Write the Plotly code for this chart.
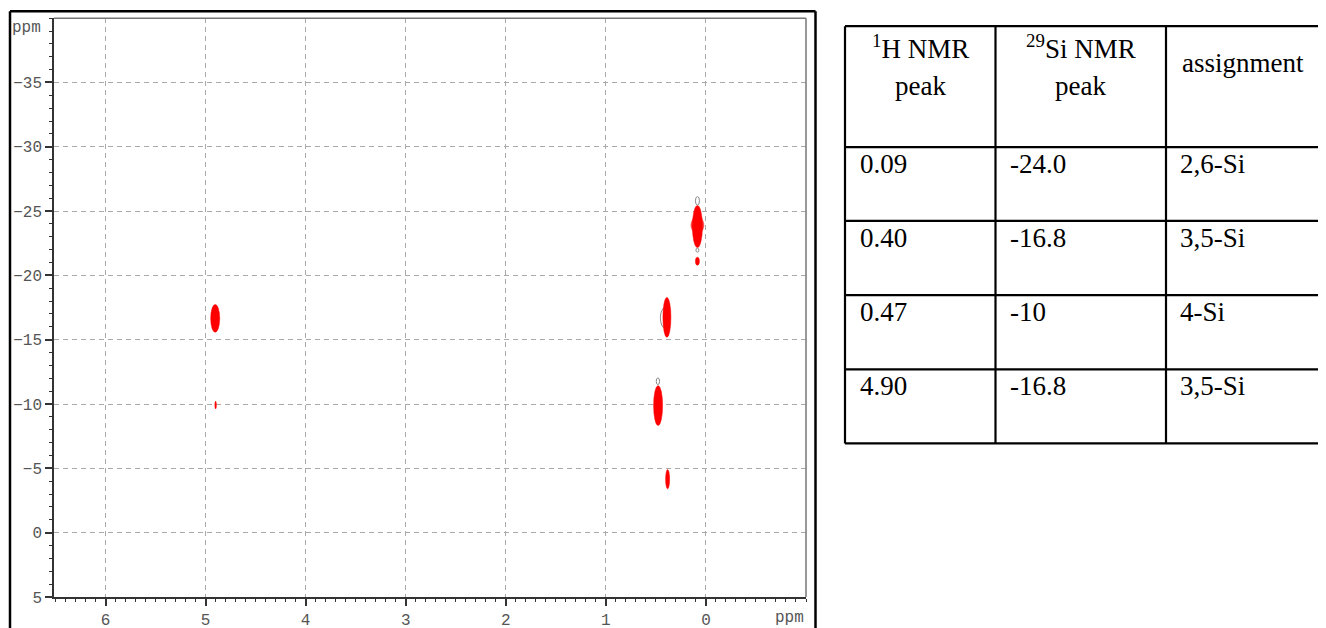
import plotly.graph_objects as go

# ---------------- data ----------------
# cross peaks (1H shift, 29Si shift, 1H width, 29Si width) in ppm
red_h = [0.085, 0.085, 0.085, 0.39, 0.478, 0.383, 4.904, 4.90]
red_si = [-23.9, -23.8, -21.1, -16.74, -9.88, -4.15, -16.66, -9.92]
red_dh = [0.13, 0.10, 0.04, 0.08, 0.09, 0.04, 0.09, 0.015]
red_dsi = [1.3, 3.27, 0.62, 3.1, 3.1, 1.5, 2.16, 0.6]
red_alpha = [0.75, 1, 1, 1, 1, 1, 1, 1]

gray_h = [0.085, 0.085, 0.41, 0.48]
gray_si = [-25.8, -21.96, -16.7, -11.77]
gray_dh = [0.04, 0.03, 0.09, 0.033]
gray_dsi = [0.65, 0.3, 1.6, 0.52]

x_ticks = [6, 5, 4, 3, 2, 1, 0]
y_ticks = [-35, -30, -25, -20, -15, -10, -5, 0, 5]

table_header = [["<sup>1</sup>H NMR", "peak"], ["<sup>29</sup>Si NMR", "peak"], ["assignment"]]
col_h = ["0.09", "0.40", "0.47", "4.90"]
col_si = ["-24.0", "-16.8", "-10", "-16.8"]
col_assign = ["2,6-Si", "3,5-Si", "4-Si", "3,5-Si"]

# ---------------- layout helpers ----------------
OFF = 8          # page body margin
K = 628 / 640    # vertical photo scale
FW, FH = 1326 - OFF, 632
def px(x):
    return (x - OFF) / FW
def py(y):
    return 1 - (y / K - OFF) / FH

PL, PR, PT, PB = 54, 806, 18, 596

fig = go.Figure()

shapes = []
for h, s, dh, ds in zip(gray_h, gray_si, gray_dh, gray_dsi):
    shapes.append(dict(type="circle", xref="x", yref="y",
                       x0=h - dh / 2, x1=h + dh / 2, y0=s - ds / 2, y1=s + ds / 2,
                       line=dict(color="#8a8a8a", width=1), fillcolor="rgba(0,0,0,0)"))
for h, s, dh, ds, a in zip(red_h, red_si, red_dh, red_dsi, red_alpha):
    shapes.append(dict(type="circle", xref="x", yref="y",
                       x0=h - dh / 2, x1=h + dh / 2, y0=s - ds / 2, y1=s + ds / 2,
                       line=dict(color="#ff0000", width=0.5), fillcolor="#ff0000", opacity=a))

fig.add_trace(go.Scatter(x=red_h, y=red_si, mode="markers",
                         marker=dict(size=6, color="red", opacity=0),
                         hoverinfo="x+y", showlegend=False))

# plot box top / right (thin gray)
shapes.append(dict(type="line", xref="paper", yref="paper", x0=px(PL), x1=px(PR), y0=py(PT), y1=py(PT),
                   line=dict(color="#777", width=1.5)))
shapes.append(dict(type="line", xref="paper", yref="paper", x0=px(PR), x1=px(PR), y0=py(PT), y1=py(PB),
                   line=dict(color="#777", width=1.5)))
# outer black frame
for (x0, y0, x1, y1) in [(10, 11, 815.5, 11), (10, 11, 10, 660), (815.5, 11, 815.5, 660)]:
    shapes.append(dict(type="line", xref="paper", yref="paper", x0=px(x0), x1=px(x1), y0=py(y0), y1=py(y1),
                       line=dict(color="black", width=2.5)))

# table grid
tx = [845, 995.5, 1166, 1340]
ty = [26, 146.7, 220.5, 294.5, 368.7, 442.7]
for yy in ty:
    shapes.append(dict(type="line", xref="paper", yref="paper", x0=px(tx[0]), x1=px(tx[-1]), y0=py(yy), y1=py(yy),
                       line=dict(color="black", width=2.2)))
for xx in tx[:-1]:
    shapes.append(dict(type="line", xref="paper", yref="paper", x0=px(xx), x1=px(xx), y0=py(ty[0]), y1=py(ty[-1]),
                       line=dict(color="black", width=2.2)))

annotations = []
tfont = dict(family="Liberation Serif", size=27, color="black")
centers = [920, 1080.5, 1242.5]
for ci, lines in enumerate(table_header):
    if len(lines) == 2:
        ys = [47, 86]
    else:
        ys = [63]
    for line, yy in zip(lines, ys):
        annotations.append(dict(xref="paper", yref="paper", x=px(centers[ci]), y=py(yy),
                                text=line, showarrow=False, xanchor="center", yanchor="middle", font=tfont))
lefts = [858, 1008, 1178]
for ri in range(len(col_h)):
    yy = ty[ri + 1] + 17
    for ci, col in enumerate([col_h, col_si, col_assign]):
        annotations.append(dict(xref="paper", yref="paper", x=px(lefts[ci]), y=py(yy),
                                text=col[ri], showarrow=False, xanchor="left", yanchor="middle", font=tfont))

afont = dict(family="Liberation Mono", size=16, color="#555")
annotations.append(dict(xref="paper", yref="paper", x=px(806), y=py(617), text="ppm", showarrow=False,
                        xanchor="right", yanchor="middle", font=afont))
annotations.append(dict(xref="paper", yref="paper", x=px(43), y=py(28), text="ppm", showarrow=False,
                        xanchor="right", yanchor="middle", font=afont))

axis_common = dict(showline=True, linecolor="#333", linewidth=1.5, ticks="outside",
                   tickcolor="#333", tickwidth=1.5, ticklen=7, showgrid=True, gridcolor="#aaaaaa",
                   griddash="5px,4px", gridwidth=1, zeroline=False, tickfont=afont)

fig.update_layout(
    width=FW, height=FH, margin=dict(l=0, r=0, t=0, b=0),
    paper_bgcolor="white", plot_bgcolor="white", showlegend=False,
    shapes=shapes, annotations=annotations,
    xaxis=dict(range=[6.515, -1.0], domain=[px(PL), px(PR)], tickmode="array", tickvals=x_ticks,
               ticktext=[str(v) for v in x_ticks],
               minor=dict(tickmode="linear", tick0=0, dtick=0.1, ticks="outside", ticklen=3,
                          tickcolor="#333", tickwidth=1, showgrid=False),
               **axis_common),
    yaxis=dict(range=[5, -40], domain=[py(PB), py(PT)], tickmode="array", tickvals=y_ticks,
               minor=dict(tickmode="linear", tick0=0, dtick=1, ticks="outside", ticklen=3,
                          tickcolor="#333", tickwidth=1, showgrid=False),
               **axis_common),
)

fig.write_html("out.html")
